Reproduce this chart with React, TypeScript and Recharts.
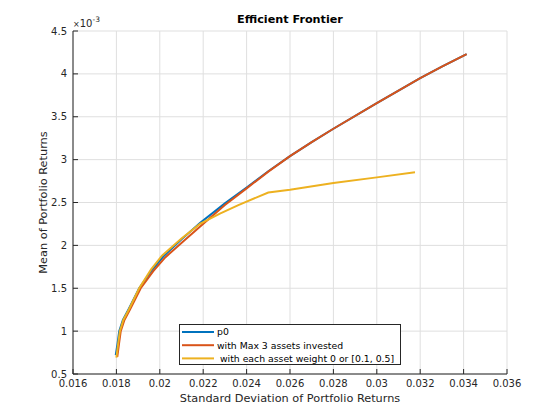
import React from 'react';
import { LineChart, Line, XAxis, YAxis, CartesianGrid } from 'recharts';

// x: standard deviation, y: mean (×10^-3)
const p0X = [0.01797, 0.01805, 0.01813, 0.0183, 0.01855, 0.01905, 0.01963, 0.02016, 0.021, 0.02185, 0.023, 0.024, 0.025, 0.026, 0.027, 0.028, 0.03, 0.032, 0.033, 0.03414];
const p0Y = [0.72, 0.85, 1.0, 1.13, 1.25, 1.5, 1.71, 1.87, 2.07, 2.26, 2.49, 2.675, 2.865, 3.04, 3.205, 3.36, 3.66, 3.95, 4.085, 4.23];

const max3X = [0.01804, 0.01812, 0.0182, 0.01837, 0.01862, 0.01912, 0.0197, 0.02025, 0.0211, 0.0219, 0.023, 0.024, 0.025, 0.026, 0.027, 0.028, 0.03, 0.032, 0.033, 0.03414];
const max3Y = [0.7, 0.85, 1.0, 1.13, 1.25, 1.5, 1.7, 1.86, 2.05, 2.23, 2.47, 2.665, 2.86, 3.04, 3.205, 3.36, 3.66, 3.95, 4.085, 4.23];

const wX = [0.018, 0.01808, 0.01816, 0.01832, 0.01857, 0.01905, 0.0196, 0.0201, 0.021, 0.02185, 0.02277, 0.02362, 0.025, 0.026, 0.028, 0.03, 0.03176];
const wY = [0.69, 0.85, 1.0, 1.13, 1.25, 1.5, 1.72, 1.88, 2.08, 2.25, 2.37, 2.47, 2.617, 2.649, 2.727, 2.793, 2.852];

const seriesNames = ['p0', 'with Max 3 assets invested', ' with each asset weight 0 or [0.1, 0.5]'];
const seriesColors = ['#0072BD', '#D95319', '#EDB120'];

const xTicks = [0.016, 0.018, 0.02, 0.022, 0.024, 0.026, 0.028, 0.03, 0.032, 0.034, 0.036];
const yTicks = [0.5, 1, 1.5, 2, 2.5, 3, 3.5, 4, 4.5];

const title = 'Efficient Frontier';
const xLabel = 'Standard Deviation of Portfolio Returns';
const yLabel = 'Mean of Portfolio Returns';

const toPoints = (xs: number[], ys: number[]) => xs.map((x, i) => ({ x, y: ys[i] }));
const seriesData = [toPoints(p0X, p0Y), toPoints(max3X, max3Y), toPoints(wX, wY)];

const FONT = 'DejaVu Sans';
const AX = '#262626';

export default function App() {
  const tickStyle = { fontSize: 10, fill: AX, fontFamily: FONT };
  return (
    <div style={{ position: 'absolute', left: 0, top: 0, width: 560, height: 420, background: '#fff' }}>
      <LineChart width={560} height={420} margin={{ top: 31, right: 53, bottom: 26, left: 33 }}>
        <CartesianGrid stroke="#dfdfdf" strokeWidth={1} />
        <XAxis
          dataKey="x"
          type="number"
          domain={[0.016, 0.036]}
          ticks={xTicks}
          allowDataOverflow
          height={20}
          tickSize={-5}
          tickMargin={11}
          tick={tickStyle}
          tickFormatter={(v: number) => String(+v.toFixed(3))}
          stroke={AX}
          axisLine={{ stroke: AX }}
          tickLine={{ stroke: AX }}
        />
        <XAxis
          xAxisId="top"
          orientation="top"
          dataKey="x"
          type="number"
          domain={[0.016, 0.036]}
          ticks={xTicks}
          allowDataOverflow
          height={0}
          tickSize={-5}
          tick={false}
          axisLine={{ stroke: AX }}
          tickLine={{ stroke: AX }}
        />
        <YAxis
          type="number"
          domain={[0.5, 4.5]}
          ticks={yTicks}
          allowDataOverflow
          width={40}
          tickSize={-5}
          tickMargin={11}
          tick={tickStyle}
          tickFormatter={(v: number) => String(v)}
          axisLine={{ stroke: AX }}
          tickLine={{ stroke: AX }}
        />
        <YAxis
          yAxisId="right"
          orientation="right"
          type="number"
          domain={[0.5, 4.5]}
          ticks={yTicks}
          allowDataOverflow
          width={0}
          tickSize={-5}
          tick={false}
          axisLine={{ stroke: AX }}
          tickLine={{ stroke: AX }}
        />
        {seriesData.map((d, i) => (
          <Line
            key={seriesNames[i]}
            data={d}
            dataKey="y"
            name={seriesNames[i]}
            type="linear"
            stroke={seriesColors[i]}
            strokeWidth={2}
            dot={false}
            isAnimationActive={false}
          />
        ))}
      </LineChart>
      <svg
        width={560}
        height={420}
        style={{ position: 'absolute', left: 0, top: 0, pointerEvents: 'none' }}
      >
        <text x={290} y={23} textAnchor="middle" fontFamily={FONT} fontWeight="bold" fontSize={11.2} fill="#000">
          {title}
        </text>
        <text x={290} y={402} textAnchor="middle" fontFamily={FONT} fontSize={11.3} fill={AX}>
          {xLabel}
        </text>
        <text
          x={47}
          y={202.5}
          textAnchor="middle"
          fontFamily={FONT}
          fontSize={11.3}
          fill={AX}
          transform="rotate(-90 47 202.5)"
        >
          {yLabel}
        </text>
        <text x={73} y={27} fontFamily={FONT} fontSize={10} fill={AX}>
          <tspan fontSize={8}>×</tspan>
          <tspan>10</tspan>
          <tspan fontSize={7.5} dy={-5}>-3</tspan>
        </text>
        <rect x={179.5} y={324.5} width={221} height={40} fill="#fff" stroke={AX} strokeWidth={1} />
        {seriesNames.map((n, i) => {
          const cy = 332 + i * 13.2;
          return (
            <g key={n}>
              <line x1={182} x2={214} y1={cy} y2={cy} stroke={seriesColors[i]} strokeWidth={2} />
              <text x={217} y={cy + 3.3} fontFamily={FONT} fontSize={9.3} fill="#000" style={{ whiteSpace: 'pre' }}>
                {n}
              </text>
            </g>
          );
        })}
      </svg>
    </div>
  );
}
